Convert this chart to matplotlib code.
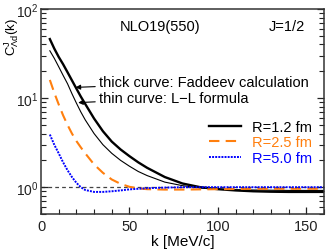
import matplotlib
matplotlib.use("Agg")
import matplotlib.pyplot as plt
from matplotlib.ticker import LogLocator, MultipleLocator, NullFormatter

plt.rcParams['font.family'] = ['Liberation Sans', 'DejaVu Sans']
plt.rcParams['mathtext.fontset'] = 'custom'
plt.rcParams['mathtext.rm'] = 'Liberation Sans'
plt.rcParams['mathtext.it'] = 'Liberation Sans:italic'
plt.rcParams['mathtext.default'] = 'regular'

# momentum grid [MeV/c]
k = [5, 7.5, 10, 12.5, 15, 17.5, 20, 22.5, 25, 30, 35, 40, 45, 50, 55, 60,
     70, 80, 90, 100, 110, 120, 130, 140, 150, 160]

# R=1.2 fm, Faddeev (thick) and L-L formula (thin)
c_thick = [46, 36, 29, 24, 19.5, 15.8, 12.8, 10.4, 8.6, 5.9, 4.25, 3.25, 2.65,
           2.23, 1.9, 1.65, 1.3, 1.1, 1.0, 0.95, 0.92, 0.9, 0.89, 0.885, 0.885, 0.885]
c_thin = [34, 28, 22.5, 18, 14.5, 11.2, 8.8, 7.0, 5.7, 4.0, 3.0, 2.4, 2.0,
          1.72, 1.5, 1.35, 1.14, 1.04, 0.98, 0.95, 0.935, 0.93, 0.925, 0.92, 0.92, 0.92]
# R=2.5 fm
c_r25 = [16, 11.5, 8.5, 6.4, 5.0, 4.0, 3.3, 2.8, 2.4, 1.8, 1.45, 1.22, 1.09,
         1.01, 0.97, 0.95, 0.94, 0.94, 0.945, 0.95, 0.955, 0.96, 0.96, 0.96, 0.96, 0.96]
# R=5.0 fm
c_r50 = [3.9, 3.0, 2.4, 1.9, 1.55, 1.3, 1.12, 1.0, 0.93, 0.885, 0.885, 0.9, 0.92,
         0.945, 0.96, 0.975, 0.99, 1.0, 1.0, 1.0, 1.0, 1.0, 1.0, 1.0, 1.0, 1.0]

labels = ["R=1.2 fm", "R=2.5 fm", "R=5.0 fm"]
colors = ["black", "#ff7f0e", "#0000ff"]

fig = plt.figure(figsize=(3.32, 2.51), dpi=100)
ax = fig.add_axes([0.1235, 0.1434, 0.8525, 0.8166])

ax.axhline(1.0, color='#444444', lw=0.9, ls=(0, (3, 2.5)), zorder=1)
ax.plot(k, c_thin, color='black', lw=0.8)
l1, = ax.plot(k, c_thick, color='black', lw=1.7)
l2, = ax.plot(k, c_r25, color=colors[1], lw=1.5, ls=(0, (5, 3)))
l3, = ax.plot(k, c_r50, color=colors[2], lw=1.4, ls=(0, (1, 0.6)))

ax.set_yscale('log')
ax.set_xlim(0, 160)
ax.set_ylim(0.5, 100)

ax.xaxis.set_major_locator(MultipleLocator(50))
ax.xaxis.set_minor_locator(MultipleLocator(10))
ax.yaxis.set_major_locator(LogLocator(base=10))
ax.yaxis.set_minor_locator(LogLocator(base=10, subs=range(2, 10)))
ax.yaxis.set_minor_formatter(NullFormatter())
ax.tick_params(which='both', direction='in', labelsize=10.5, colors='#222222',
               right=True, top=False)
ax.tick_params(which='major', length=5, width=0.9)
ax.tick_params(which='minor', length=3.5, width=0.8)
ax.tick_params(axis='y', labelsize=10, pad=1.5)
for sp in ax.spines.values():
    sp.set_linewidth(1.1)
    sp.set_color('#333333')

ax.set_xlabel("k [MeV/c]", fontsize=11, labelpad=1)
ax.set_ylabel(r"C$^{J}_{\Lambda d}$(k)", fontsize=9.5)
ax.yaxis.set_label_coords(-0.072, 0.87)

ax.text(0.42, 0.915, "NLO19(550)", transform=ax.transAxes, fontsize=10.5,
        ha='center', va='center')
ax.text(0.87, 0.915, "J=1/2", transform=ax.transAxes, fontsize=10.5,
        ha='center', va='center')

ax.annotate("thick curve: Faddeev calculation", xy=(19.5, 13.2), xytext=(33, 15.0),
            fontsize=10.5, va='center', ha='left',
            arrowprops=dict(arrowstyle='-|>', color='black', lw=0.8,
                            mutation_scale=7, shrinkA=1, shrinkB=0))
ax.annotate("thin curve: L\u2212L formula", xy=(21, 8.9), xytext=(33, 10.0),
            fontsize=10.5, va='center', ha='left',
            arrowprops=dict(arrowstyle='-|>', color='black', lw=0.8,
                            mutation_scale=7, shrinkA=1, shrinkB=0))

leg = ax.legend([l1, l2, l3], labels, loc='upper left', bbox_to_anchor=(0.595, 0.46),
                frameon=False, fontsize=10.5, handlelength=2.2, handletextpad=0.7,
                labelspacing=0.12, borderaxespad=0, borderpad=0)
for t, c in zip(leg.get_texts(), colors):
    t.set_color(c)

fig.savefig("out.png", dpi=100)
